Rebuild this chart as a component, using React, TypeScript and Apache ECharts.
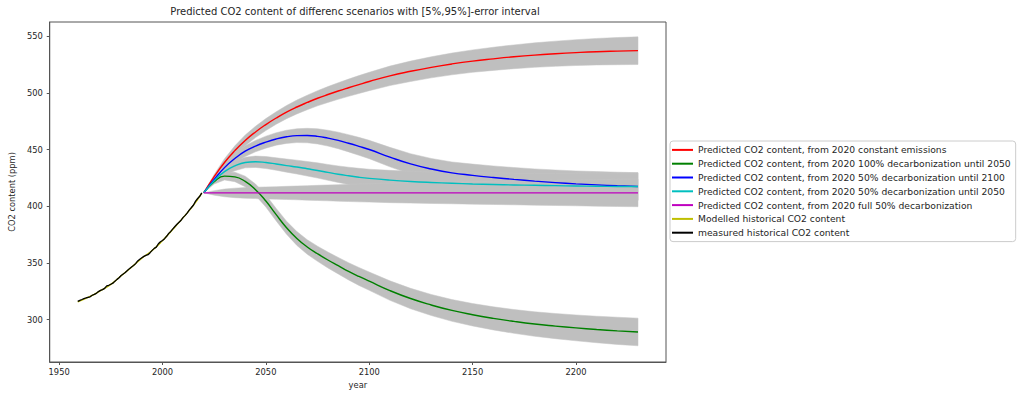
import React, { useEffect, useRef } from "react";
import * as echarts from "echarts";

// ---------- data ----------
const measuredStartYear = 1959;
const measuredCO2 = [
  315.98, 316.91, 317.64, 318.45, 318.99, 319.62, 320.04, 321.37, 322.18, 323.05,
  324.62, 325.68, 326.32, 327.46, 329.68, 330.19, 331.13, 332.03, 333.84, 335.41,
  336.84, 338.76, 340.12, 341.48, 343.15, 344.87, 346.35, 347.61, 349.31, 351.69,
  353.2, 354.45, 355.7, 356.54, 357.21, 358.96, 360.97, 362.74, 363.88, 366.84,
  368.54, 369.71, 371.32, 373.45, 375.98, 377.7, 379.98, 382.09, 384.02, 385.83,
  387.64, 390.1, 391.85, 394.06, 396.74, 398.81, 401.01, 404.41, 406.76, 408.72,
  411.66,
];

const modelledYears = [1959, 1965, 1970, 1975, 1980, 1985, 1990, 1995, 2000, 2005, 2010, 2015, 2019];
const modelledCO2 = [315.6, 320.3, 325.4, 331.0, 338.6, 346.1, 354.1, 360.9, 369.6, 379.6, 389.9, 400.9, 411.5];

const projYears = [
  2020, 2025, 2030, 2035, 2040, 2045, 2050, 2055, 2060, 2065, 2070, 2075, 2080, 2085, 2090, 2095, 2100,
  2110, 2120, 2130, 2140, 2150, 2160, 2170, 2180, 2190, 2200, 2210, 2220, 2230,
];
const constantEmissions = [
  412, 426, 438.5, 449, 458, 465.5, 472, 477.8, 483, 487.5, 491.5, 495.2, 498.5, 501.6, 504.5, 507.3, 510,
  515, 519, 522.5, 525.5, 528, 530, 531.8, 533.3, 534.5, 535.5, 536.3, 536.8, 537.2,
];
const decarb100Until2050 = [
  412, 421.5, 426.5, 425.8, 421.8, 414.5, 404.5, 392.5, 381, 371.5, 364, 358, 352.5, 347.5, 342.5, 338, 333.8,
  325.5, 318.5, 312.8, 308, 304.2, 301, 298.3, 296, 294.2, 292.6, 291.2, 290, 289,
];
const decarb50Until2100 = [
  412, 423.5, 434, 442, 448.5, 453, 456.5, 459.3, 461.2, 462.2, 462.3, 461.6, 460, 458, 455.5, 452.8, 450,
  443.3, 437.3, 432.8, 429.4, 427.2, 425.3, 423.6, 422.1, 420.8, 419.7, 418.8, 418, 417.3,
];
const decarb50Until2050 = [
  412, 422.5, 430.5, 435.5, 438.5, 439.2, 438.5, 437.2, 435.8, 434.5, 433, 431.5, 429.8, 428.2, 426.8, 425.5, 424.5,
  423, 421.8, 420.9, 420.2, 419.6, 419.1, 418.7, 418.4, 418.1, 417.8, 417.6, 417.4, 417.3,
];
const decarbFull50 = [
  411.7, 411.7, 411.7, 411.7, 411.7, 411.7, 411.7, 411.7, 411.7, 411.7, 411.7, 411.7, 411.7, 411.7, 411.7, 411.7, 411.7,
  411.7, 411.7, 411.7, 411.7, 411.7, 411.7, 411.7, 411.7, 411.7, 411.7, 411.7, 411.7, 411.7,
];
const errorHalfWidth = [
  0, 2, 3.4, 4.2, 4.7, 5.0, 5.3, 5.5, 5.8, 6.1, 6.4, 6.7, 7.0, 7.3, 7.6, 7.9, 8.1,
  8.6, 9.0, 9.3, 9.6, 9.9, 10.2, 10.5, 10.8, 11.1, 11.4, 11.7, 12.0, 12.2,
];

const xTicks = [1950, 2000, 2050, 2100, 2150, 2200];
const yTicks = [300, 350, 400, 450, 500, 550];

const seriesNames = [
  "Predicted CO2 content, from 2020 constant emissions",
  "Predicted CO2 content, from 2020 100% decarbonization until 2050",
  "Predicted CO2 content, from 2020 50% decarbonization until 2100",
  "Predicted CO2 content, from 2020 50% decarbonization until 2050",
  "Predicted CO2 content, from 2020 full 50% decarbonization",
  "Modelled historical CO2 content",
  "measured historical CO2 content",
];

const FONT = "DejaVu Sans";
const TEXT = "#262626";
const AXIS = "#555555";

export default function App() {
  const ref = useRef<HTMLDivElement>(null);
  useEffect(() => {
    document.body.style.margin = "0";
    const chart = echarts.init(ref.current!, null, { renderer: "svg" });

    const scenarios = [
      { name: seriesNames[0], values: constantEmissions, color: "#ff0000" },
      { name: seriesNames[1], values: decarb100Until2050, color: "#008000" },
      { name: seriesNames[2], values: decarb50Until2100, color: "#0000ff" },
      { name: seriesNames[3], values: decarb50Until2050, color: "#00bfbf" },
      { name: seriesNames[4], values: decarbFull50, color: "#bf00bf" },
    ];

    const bandSeries: any[] = scenarios.map((s, k) => ({
      type: "custom",
      name: "band" + k,
      silent: true,
      z: 1,
      data: projYears.map((y, i) => [y, s.values[i] - errorHalfWidth[i], s.values[i] + errorHalfWidth[i]]),
      encode: { x: 0, y: [1, 2] },
      renderItem: (params: any, api: any) => {
        if (params.dataIndex !== 0) return null;
        const upper = projYears.map((y, i) => api.coord([y, s.values[i] + errorHalfWidth[i]]));
        const lower = projYears.map((y, i) => api.coord([y, s.values[i] - errorHalfWidth[i]])).reverse();
        return {
          type: "polygon",
          shape: { points: upper.concat(lower) },
          style: { fill: "#bfbfbf", stroke: "#c4c4c4", lineWidth: 0.5 },
        };
      },
    }));

    const lineSeries: any[] = scenarios.map((s) => ({
      type: "line",
      name: s.name,
      data: projYears.map((y, i) => [y, s.values[i]]),
      symbol: "none",
      smooth: 0.5,
      z: 3,
      color: s.color,
      lineStyle: { color: s.color, width: 1.4 },
    }));
    lineSeries.push({
      type: "line",
      name: seriesNames[5],
      data: modelledYears.map((y, i) => [y, modelledCO2[i]]),
      symbol: "none",
      smooth: 0.5,
      z: 3,
      color: "#bfbf00",
      lineStyle: { color: "#bfbf00", width: 1.4 },
    });
    lineSeries.push({
      type: "line",
      name: seriesNames[6],
      data: measuredCO2.map((v, i) => [measuredStartYear + i, v]),
      symbol: "none",
      z: 4,
      color: "#000000",
      lineStyle: { color: "#000000", width: 1.3 },
    });

    chart.setOption({
      animation: false,
      textStyle: { fontFamily: FONT },
      grid: {
        left: 44,
        right: 358,
        top: 22,
        bottom: 35,
        show: true,
        borderColor: AXIS,
        borderWidth: 1,
        containLabel: false,
      },
      graphic: [
        {
          type: "text",
          x: 355,
          y: 11,
          style: {
            text: "Predicted CO2 content of differenc scenarios with [5%,95%]-error interval",
            fill: TEXT,
            font: `10px "${FONT}"`,
            textAlign: "center",
            textVerticalAlign: "middle",
          },
        },
      ],
      legend: {
        orient: "vertical",
        left: 670,
        top: 141,
        data: seriesNames,
        icon: "rect",
        itemWidth: 21,
        itemHeight: 2,
        itemGap: 0,
        padding: [2, 5, 2, 2],
        backgroundColor: "#ffffff",
        borderColor: "#cccccc",
        borderWidth: 1,
        borderRadius: 3,
        selectedMode: false,
        textStyle: { fontFamily: FONT, fontSize: 9.2, color: TEXT, lineHeight: 13.8 },
      },
      xAxis: {
        type: "value",
        min: 1945.45,
        max: 2243.55,
        name: "year",
        nameLocation: "middle",
        nameGap: 19,
        nameTextStyle: { fontFamily: FONT, fontSize: 8.3, color: TEXT },
        splitLine: { show: false },
        axisLine: { show: true, onZero: false, lineStyle: { color: AXIS, width: 1 } },
        axisTick: { show: true, length: 3, customValues: xTicks, lineStyle: { color: AXIS } },
        axisLabel: {
          customValues: xTicks,
          margin: 6,
          fontFamily: FONT,
          fontSize: 8.3,
          color: TEXT,
          formatter: (v: number) => String(v),
        },
      },
      yAxis: {
        type: "value",
        min: 262.5,
        max: 562.5,
        name: "CO2 content (ppm)",
        nameLocation: "middle",
        nameGap: 27,
        nameTextStyle: { fontFamily: FONT, fontSize: 8.3, color: TEXT },
        splitLine: { show: false },
        axisLine: { show: true, onZero: false, lineStyle: { color: AXIS, width: 1 } },
        axisTick: { show: true, length: 3, customValues: yTicks, lineStyle: { color: AXIS } },
        axisLabel: {
          customValues: yTicks,
          margin: 7,
          fontFamily: FONT,
          fontSize: 8.3,
          color: TEXT,
          formatter: (v: number) => String(v),
        },
      },
      series: [...bandSeries, ...lineSeries],
    });

    return () => chart.dispose();
  }, []);
  return <div ref={ref} style={{ width: 1024, height: 397 }} />;
}
